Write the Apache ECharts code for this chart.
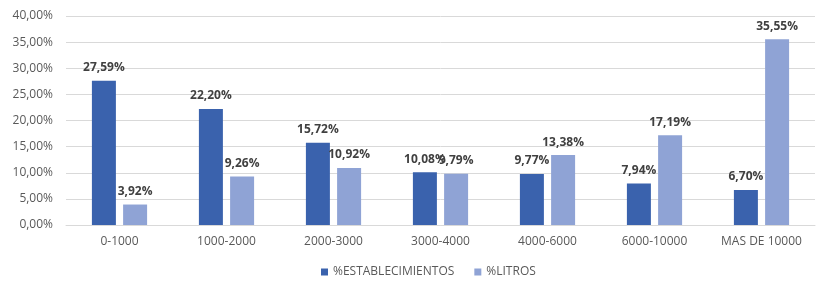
<!DOCTYPE html>
<html>
<head>
<meta charset="utf-8">
<script src="https://cdn.jsdelivr.net/npm/echarts@6/dist/echarts.min.js"></script>
<style>
  html, body { margin: 0; padding: 0; background: #fff; }
  #chart { width: 822px; height: 284px; }
</style>
</head>
<body>
<div id="chart"></div>
<script>
const categories = ["0-1000", "1000-2000", "2000-3000", "3000-4000", "4000-6000", "6000-10000", "MAS DE 10000"];
const establecimientos = [27.59, 22.2, 15.72, 10.08, 9.77, 7.94, 6.7];
const litros = [3.92, 9.26, 10.92, 9.79, 13.38, 17.19, 35.55];

const fmt = (v) => v.toFixed(2).replace(".", ",") + "%";

const chart = echarts.init(document.getElementById("chart"));

const labelStyle = {
  show: true,
  position: "top",
  distance: 7,
  color: "#404040",
  fontWeight: "bold",
  fontSize: 12,
  fontFamily: "Open Sans",
  formatter: (p) => fmt(p.value),
};

chart.setOption({
  animation: false,
  grid: { left: 66, right: 7, top: 16, bottom: 59 },
  legend: {
    bottom: 1,
    left: 316,
    itemWidth: 7,
    itemHeight: 7,
    itemGap: 20,
    icon: "rect",
    textStyle: { color: "#595959", fontSize: 12, fontFamily: "Open Sans" },
    data: ["%ESTABLECIMIENTOS", "%LITROS"],
  },
  xAxis: {
    type: "category",
    data: categories,
    axisLine: { lineStyle: { color: "#d9d9d9" } },
    axisTick: { show: false },
    axisLabel: { color: "#595959", fontSize: 12, fontFamily: "Open Sans", margin: 11 },
  },
  yAxis: {
    type: "value",
    min: 0,
    max: 40,
    interval: 5,
    axisLine: { show: false },
    axisTick: { show: false },
    splitLine: { lineStyle: { color: "#d9d9d9", width: 1 } },
    axisLabel: {
      color: "#595959",
      fontSize: 12,
      fontFamily: "Open Sans",
      margin: 13,
      formatter: (v) => fmt(v),
    },
  },
  series: [
    {
      name: "%ESTABLECIMIENTOS",
      type: "bar",
      data: establecimientos,
      barWidth: 24,
      barGap: "30%",
      itemStyle: { color: "#3a62ad" },
      label: labelStyle,
    },
    {
      name: "%LITROS",
      type: "bar",
      data: litros,
      barWidth: 24,
      itemStyle: { color: "#8fa3d5" },
      label: labelStyle,
    },
  ],
});
</script>
</body>
</html>
